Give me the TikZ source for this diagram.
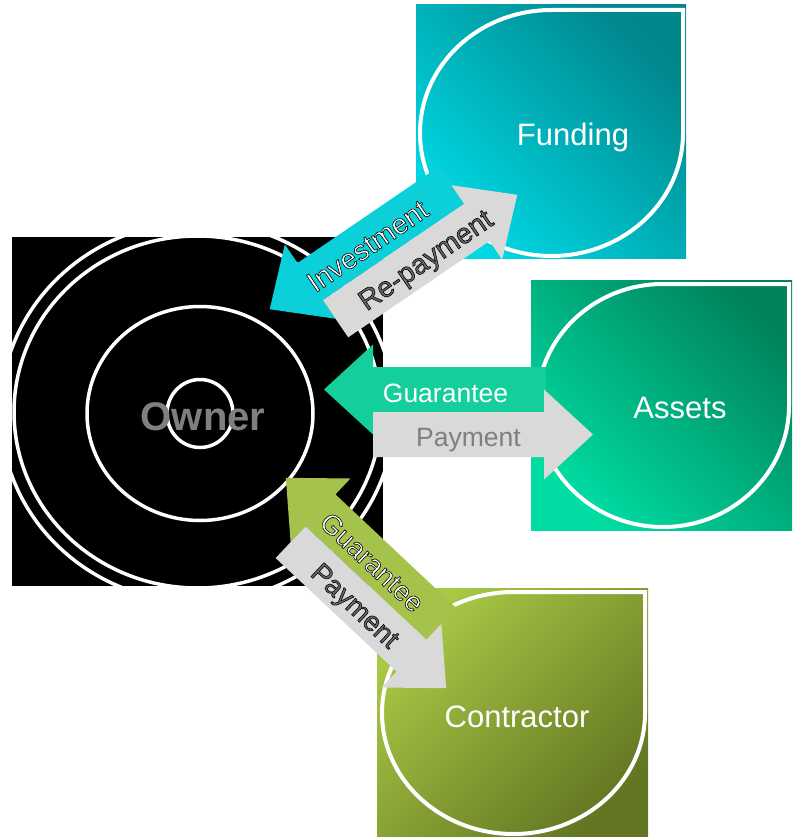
\documentclass[tikz,border=0pt]{standalone}
\usepackage{fontspec}
\setmainfont{Liberation Sans}

\definecolor{fundLight}{HTML}{00D8E4}
\definecolor{fundDark}{HTML}{00878C}
\definecolor{assetLight}{HTML}{00DCA2}
\definecolor{assetDark}{HTML}{00825C}
\definecolor{contrLight}{HTML}{A9C845}
\definecolor{contrDark}{HTML}{627622}
\definecolor{arrCyan}{HTML}{0BCFD9}
\definecolor{arrTeal}{HTML}{14CF9B}
\definecolor{arrLime}{HTML}{A5C34A}
\definecolor{arrGray}{HTML}{D9D9D9}
\definecolor{txtGray}{HTML}{7F7F7F}
\definecolor{txtDark}{HTML}{6A6A6A}

% text filled in the current colour with a thin black outline
\newcommand{\outlined}[1]{\special{pdf:literal direct q 2 Tr 0.6 w 0 0 0 RG}#1\special{pdf:literal direct Q}}

\tikzset{
  ring/.style={draw=white, line width=3.5pt},
  leafline/.style={draw=white, line width=4pt},
  boxlabel/.style={anchor=base, text=white, font=\fontsize{31}{36}\selectfont},
  arrowtext/.style={anchor=base, transform shape, font=\fontsize{26.5}{30}\selectfont},
  arrowtextbig/.style={anchor=base, transform shape, font=\fontsize{28.5}{32}\selectfont},
}

% square with a diagonal gradient and a white leaf outline (sharp top-right corner)
\newcommand{\leafbox}[9]{%
  \def\lbname{#1}\def\lbl{#2}\def\lbt{#3}\def\lbr{#4}\def\lbb{#5}%
  \def\oll{#6}\def\olt{#7}\def\olr{#8}\def\olb{#9}%
  \leafboxrest}
\newcommand{\leafboxrest}[6]{%
  \shade[top color=#2, bottom color=#1, shading angle=#3] (\lbl,\lbt) rectangle (\lbr,\lbb);
  \pgfmathsetmacro{\rxx}{(\olr-\oll)/2}%
  \pgfmathsetmacro{\ryy}{(\olb-\olt)/2}%
  \pgfmathsetmacro{\cxx}{(\olr+\oll)/2}%
  \path[leafline] (\olr,\olt) -- (\cxx,\olt)
     arc[start angle=90, end angle=180, x radius=\rxx pt, y radius=\ryy pt]
     arc[start angle=180, end angle=270, x radius=\rxx pt, y radius=\ryy pt]
     arc[start angle=270, end angle=360, x radius=\rxx pt, y radius=\ryy pt]
     -- cycle;
  \node[boxlabel] (\lbname) at (#4,#5) {#6};
}

% pair of opposing block arrows: #1 centre, #2 angle, #3 scale, #4 colour,
% #5 coloured-arrow text, #6 grey-arrow text
\newcommand{\arrowpair}[6]{%
  \begin{scope}[shift={#1}, rotate=#2, scale=#3]
    \fill[#4] (-134.5,-22.5) -- (-85.5,-67.5) -- (-85.5,-45) -- (87.5,-45)
      -- (87.5,0) -- (-85.5,0) -- (-85.5,22.5) -- cycle;
    \fill[arrGray] (134.5,22.5) -- (85.5,67.5) -- (85.5,45) -- (-85.5,45)
      -- (-85.5,0) -- (85.5,0) -- (85.5,-22.5) -- cycle;
    #5
    #6
  \end{scope}}

\begin{document}
\begin{tikzpicture}[x=1pt, y=-1pt]
\path[use as bounding box, clip] (0,0) rectangle (792,837);

% Owner target
\fill[black] (12,237) rectangle (383,586);
\begin{scope}
  \clip (12,237) rectangle (383,586);
  \path[ring] (197.5,412) ellipse [x radius=197pt, y radius=190pt];
  \path[ring] (197.5,412) ellipse [x radius=183.5pt, y radius=176pt];
\end{scope}
\path[ring] (200,413.5) ellipse [x radius=113pt, y radius=107pt];
\path[ring] (200,413.5) ellipse [x radius=33pt, y radius=34pt];
\node[anchor=base, text=txtGray, font=\bfseries\fontsize{40}{46}\selectfont] (owner) at (203,430) {Owner};

% Partner boxes
\leafbox{funding}{416}{5}{686}{258}{420}{10}{683}{256}{fundLight}{fundDark}{-45}{573}{146}{Funding}
\leafbox{assets}{531}{280}{800}{530}{537}{284}{789}{527}{assetLight}{assetDark}{-45}{680}{418}{Assets}
\leafbox{contractor}{377}{588}{648}{845}{382}{592}{645}{834}{contrLight}{contrDark}{-135}{517}{727}{Contractor}

% Arrow pairs
\arrowpair{(393.5,252)}{34.3}{1}{arrCyan}
  {\node[arrowtextbig, text=white] (invest) at (-18,-10) {\outlined{Investment}};}
  {\node[arrowtextbig, text=txtDark] (repay) at (22,34) {\outlined{Re-payment}};}
\arrowpair{(458.5,412)}{0}{1}{arrTeal}
  {\node[arrowtext, text=white] (guar) at (-13,-10) {Guarantee};}
  {\node[arrowtext, text=txtGray] (pay) at (10,34) {Payment};}
\arrowpair{(366,583)}{-43.2}{0.97}{arrLime}
  {\node[arrowtextbig, text=white] (guarc) at (-10,-10) {\outlined{Guarantee}};}
  {\node[arrowtextbig, text=txtDark] (payc) at (8,34) {\outlined{Payment}};}
\end{tikzpicture}
\end{document}
